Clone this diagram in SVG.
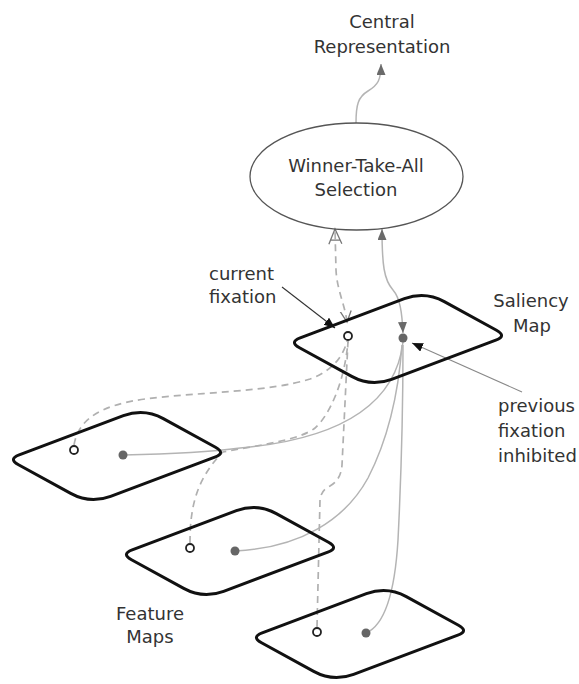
<svg xmlns="http://www.w3.org/2000/svg" width="579" height="684" viewBox="0 0 579 684">
<style>
  .lbl { font-family: "DejaVu Sans", "Liberation Sans", sans-serif; font-size: 18px; fill: #333; }
  .map { fill: none; stroke: #111; stroke-width: 3; stroke-linejoin: round; }
  .sol { fill: none; stroke: #b4b4b4; stroke-width: 1.5; }
  .dash { fill: none; stroke: #b0b0b0; stroke-width: 1.7; stroke-dasharray: 7 5; }
  .open { fill: #fff; stroke: #222; stroke-width: 1.8; }
  .full { fill: #666; }
  .ptr { fill: none; stroke: #333; stroke-width: 1.1; }
</style>
<defs>
  <path id="plane" d="M11.2,-4.2 L115.4,-43.3 Q136,-51 155.3,-40.4 L207.5,-11.8 Q218,-6 206.8,-1.8 L102.6,37.3 Q82,45 62.7,34.4 L10.5,5.8 Q0,0 11.2,-4.2 Z"/>
  <marker id="arrGray" markerUnits="userSpaceOnUse" markerWidth="12" markerHeight="10" refX="11" refY="4.5" orient="auto-start-reverse">
    <path d="M0,0 L11,4.5 L0,9 Z" fill="#6a6a6a"/>
  </marker>
  <marker id="arrBlack" markerUnits="userSpaceOnUse" markerWidth="12" markerHeight="10" refX="11" refY="4.5" orient="auto">
    <path d="M0,0 L11,4.5 L0,9 Z" fill="#111"/>
  </marker>
  <marker id="arrOpen" markerUnits="userSpaceOnUse" markerWidth="18" markerHeight="16" refX="16" refY="7" orient="auto">
    <path d="M1,0.5 L16,7 L1,13.5 M5,2.3 L5,11.7" fill="none" stroke="#777" stroke-width="1.3"/>
  </marker>
  <marker id="arrVee" markerUnits="userSpaceOnUse" markerWidth="14" markerHeight="14" refX="11" refY="6" orient="auto-start-reverse">
    <path d="M0,0.5 L11,6 L0,11.5" fill="none" stroke="#777" stroke-width="1.3"/>
  </marker>
</defs>
<rect width="579" height="684" fill="#fff"/>

<g id="connectors">
  <path class="sol" d="M356,123 C356,105 358,97 368,91 C378,85 381,80 381,64" marker-end="url(#arrGray)"/>
  <path class="sol" d="M403,333 C402,312 400,298 393,290 C384,280 382,265 382,229" marker-start="url(#arrGray)" marker-end="url(#arrGray)"/>
  <path class="dash" d="M347,322 C345,305 337,290 336,270 L335,229" marker-start="url(#arrVee)" marker-end="url(#arrOpen)"/>
  <path class="sol" d="M123,455 C170,454 210,452 240,448 C330,440 395,410 403,342"/>
  <path class="sol" d="M235,551 C300,548 345,520 368,478 C385,445 398,400 402,345"/>
  <path class="sol" d="M366,633 C385,625 395,590 398,540 C401,480 403,420 403,345"/>
  <path class="dash" d="M74,445 C78,420 100,405 145,399 C200,392 270,392 310,379 C330,372 343,358 347,341"/>
  <path class="dash" d="M190,543 C190,510 195,480 223,452 C260,445 300,440 315,428 C330,415 345,380 348,341"/>
  <path class="dash" d="M317,627 L320,500 Q321,490 330,486 Q341,480 342,465 L348,341"/>
  <path class="ptr" d="M282,287 L335,328" marker-end="url(#arrBlack)"/>
  <path class="ptr" stroke="#888" d="M522,392 L412,343" marker-end="url(#arrBlack)" style="stroke:#888"/>
</g>

<g id="wta">
  <ellipse cx="356.5" cy="176.5" rx="106.5" ry="53.5" fill="none" stroke="#555" stroke-width="1.3"/>
  <text class="lbl" x="356" y="172" text-anchor="middle">Winner-Take-All</text>
  <text class="lbl" x="356" y="196" text-anchor="middle">Selection</text>
</g>

<g id="central">
  <text class="lbl" x="382" y="28" text-anchor="middle">Central</text>
  <text class="lbl" x="382" y="53" text-anchor="middle">Representation</text>
</g>

<g id="saliency-map">
  <use href="#plane" class="map" transform="translate(289,342)"/>
  <circle class="open" cx="348" cy="336" r="4"/>
  <circle class="full" cx="403" cy="338" r="4.5"/>
  <text class="lbl" x="531" y="307" text-anchor="middle">Saliency</text>
  <text class="lbl" x="532" y="332" text-anchor="middle">Map</text>
</g>

<g id="feature-map-1">
  <use href="#plane" class="map" transform="translate(8,459)"/>
  <circle class="open" cx="74" cy="450" r="4"/>
  <circle class="full" cx="123" cy="455" r="4.5"/>
</g>

<g id="feature-map-2">
  <use href="#plane" class="map" transform="translate(121,554)"/>
  <circle class="open" cx="190" cy="548" r="4"/>
  <circle class="full" cx="235" cy="551" r="4.5"/>
</g>

<g id="feature-map-3">
  <use href="#plane" class="map" transform="translate(251,637)"/>
  <circle class="open" cx="317" cy="632" r="4"/>
  <circle class="full" cx="366" cy="633" r="4.5"/>
</g>

<g id="label-current">
  <text class="lbl" x="209" y="280">current</text>
  <text class="lbl" x="209" y="303">fixation</text>
</g>

<g id="label-previous">
  <text class="lbl" x="498" y="412">previous</text>
  <text class="lbl" x="498" y="437">fixation</text>
  <text class="lbl" x="498" y="462">inhibited</text>
</g>

<g id="label-feature">
  <text class="lbl" x="150" y="620" text-anchor="middle">Feature</text>
  <text class="lbl" x="150" y="643" text-anchor="middle">Maps</text>
</g>
</svg>
